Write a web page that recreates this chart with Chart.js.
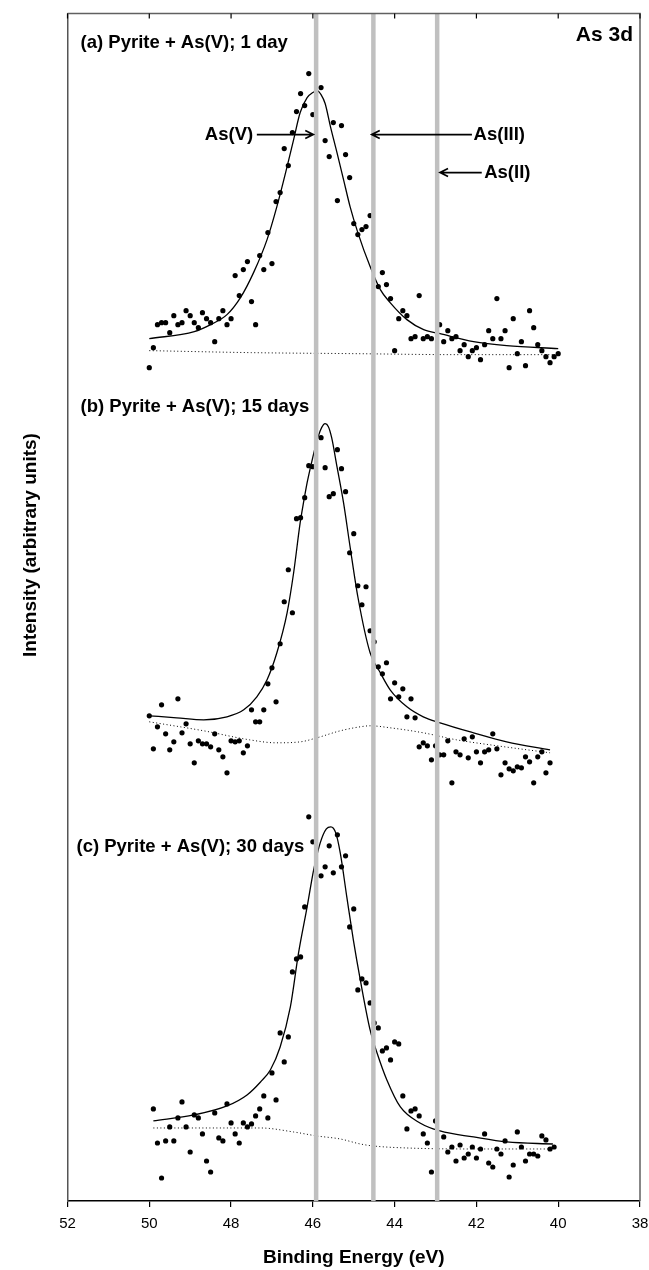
<!DOCTYPE html>
<html>
<head>
<meta charset="utf-8">
<title>As 3d XPS</title>
<script src="https://cdn.jsdelivr.net/npm/chart.js@4.4.1/dist/chart.umd.min.js"></script>
<style>
  html, body { margin: 0; padding: 0; background: #fff; }
</style>
</head>
<body>
<canvas id="xps" width="649" height="1270"></canvas>
<script>
// ---------------------------------------------
// As 3d spectra, pyrite + As(V), three reaction times
// measured points are on a 0.1 eV grid (high -> low binding energy)
// ---------------------------------------------
const stepE = 0.1;
const startA = 50.0, startB = 50.0, startC = 49.9;

// (a) 1 day
const ptsA = [833, 853, 876, 878, 878, 868, 885, 876, 878, 890,
              885, 878, 873, 888, 882, 878, 859, 882, 890, 876,
              882, 925, 905, 931, 939, 899, 876, 945, 931, 968,
              937, 999, 1008, 1052, 1035, 1068, 1089, 1107, 1095, 1127,
              1086, null, 1113, 1060, 1044, 1078, 1000, 1075, 1046, 1023,
              977, 966, 971, 974, 985, null, 914, 928, 916, 902,
              850, 882, 890, 885, 862, 864, 905, 862, 864, 862,
              null, 876, 859, 870, 862, 864, 850, 856, 844, 850,
              853, 841, 856, 870, 862, 902, 862, 870, 833, 882,
              847, 859, 835, 890, 873, 856, 850, 844, 838, 844,
              847];
// (b) 15 days
const ptsB = [485, 452, 474, 496, 467, 451, 459, 502, 468, 477,
              457, 438, 460, 457, 457, 454, 467, 451, 444, 428,
              460, 459, 460, 448, 455, 491, 479, 479, 491, 517,
              533, 499, 557, 599, 631, 588, 682, 683, 703, 735,
              734, null, 763, 733, 704, 707, 751, 732, 709, 648,
              667, 615, 596, 614, 570, 559, 534, 527, 538, 502,
              518, 504, 512, 484, 502, 483, 454, 458, 455, 441,
              455, 446, 446, 460, 418, 449, 446, 462, 443, 464,
              449, 438, 449, 451, 467, 452, 426, 438, 432, 430,
              434, 433, 444, 439, 418, 444, 449, 428, 438];
// (c) 30 days
const ptsC = [92, 58, 23, 60, 74, 60, 83, 99, 74, 49,
              86, 83, 67, 40, 29, 88, 63, 60, 97, 78,
              67, 58, 78, 74, 77, 85, 92, 105, 83, 128,
              101, 168, 139, 164, 229, 242, 244, 294, 384, 359,
              null, 325, 334, 355, 328, 366, 334, 345, 274, 292,
              211, 222, 218, 198, 178, 173, 150, 153, 141, 159,
              157, 105, 72, 90, 92, 85, 67, 58, 29, 80,
              null, 64, 49, 54, 40, 56, 43, 47, 54, 43,
              52, 67, 38, 34, 52, 47, 60, 24, 36, 69,
              54, 40, 47, 47, 45, 65, 61, 52, 54];

// fitted envelopes
const fitA_E = [50.0, 48.9, 48.5, 48.1, 47.77, 47.45, 47.12, 46.88, 46.63, 46.47, 46.31, 46.14, 46.0, 45.9, 45.8,
                45.7, 45.57, 45.41, 45.25, 45.09, 44.9, 44.6, 44.35, 44.11, 43.7, 43.29, 42.89, 42.07, 41.26, 40.0];
const fitA   = [862, 869, 876, 886, 903, 928, 961, 994, 1034, 1061, 1088, 1103, 1108, 1110, 1106,
                1097, 1074, 1048, 1021, 994, 968, 934, 911, 898, 881, 871, 867, 859, 855, 852];

const fitB_E = [50.0, 49.33, 48.67, 48.1, 47.69, 47.37, 47.12, 46.88, 46.63, 46.47, 46.31, 46.22, 46.14, 46.06, 45.98,
                45.9, 45.82, 45.74, 45.7, 45.62, 45.54, 45.41, 45.25, 45.09, 44.9, 44.6, 44.35, 44.11, 43.7, 43.3,
                42.89, 42.07, 41.26, 40.2];
const fitB   = [485, 483, 481, 484, 491, 504, 521, 548, 588, 628, 678, 700, 718, 733, 747,
                760, 770, 776, 777, 774, 763, 734, 698, 654, 604, 548, 528, 511, 494, 484,
                478, 468, 459, 451];

const fitC_E = [49.9, 48.91, 48.1, 47.61, 47.28, 47.04, 46.8, 46.55, 46.35, 46.14, 45.98, 45.82, 45.67, 45.56,
                45.44, 45.33, 45.17, 45.01, 44.84, 44.6, 44.43, 44.19, 43.86, 43.38, 42.89, 42.07, 41.26, 40.13];
const fitC   = [80, 86, 95, 106, 119, 131, 154, 194, 248, 294, 331, 358, 372, 374,
                368, 348, 304, 261, 221, 171, 148, 121, 94, 78, 70, 64, 59, 57];

// Shirley-type backgrounds
const bgA_E = [50.0, 47.5, 45.0, 42.5, 40.1];
const bgA   = [850, 848, 847, 846, 846];
const bgB_E = [50.0, 48.67, 47.55, 46.9, 46.3, 45.9, 45.33, 44.84, 44.6, 44.11, 43.3, 42.49, 41.67, 40.2];
const bgB   = [479, 470, 461, 458, 459, 463, 470, 474, 475, 473, 468, 461, 456, 448];
const bgC_E = [49.9, 47.28, 46.47, 45.9, 45.33, 44.84, 44.52, 43.7, 42.07, 40.13];
const bgC   = [73, 73, 69, 65, 62, 57, 55, 53, 52, 52];

// reference binding energies: As(V), As(III), As(II)
const refE = [45.92, 44.52, 42.96];

const xTicks = [52, 50, 48, 46, 44, 42, 40, 38];
const yMax = 1187;

const FONT = "'Liberation Sans', Arial, Helvetica, sans-serif";

const grid = (start, vals) => vals.map((v, i) => ({ x: +(start - i * stepE).toFixed(2), y: v }));
const pair = (es, vals) => es.map((e, i) => ({ x: e, y: vals[i] }));

const dots = (data) => ({
    type: 'scatter', data, order: 3,
    pointRadius: 2.6, pointBackgroundColor: '#000', pointBorderWidth: 0, showLine: false,
});
const curve = (data, dashed) => ({
    type: 'line', data, order: 2,
    borderColor: '#000', borderWidth: dashed ? 1 : 1.3, borderDash: dashed ? [1, 2.5] : [],
    pointRadius: 0, cubicInterpolationMode: 'monotone', fill: false,
});
const refLine = (e) => ({
    type: 'line', data: [{ x: e, y: 0 }, { x: e, y: yMax }], order: 0,
    borderColor: '#c0c0c0', borderWidth: 4.5, pointRadius: 0,
});

// =============================================
// annotations, frame, y title
// =============================================
const decor = {
    id: 'decor',
    afterDraw(chart) {
        const { ctx, chartArea: a, scales: { x, y } } = chart;
        ctx.save();

        // frame top / right + inward top ticks
        ctx.strokeStyle = '#606060';
        ctx.lineWidth = 1.5;
        ctx.beginPath();
        ctx.moveTo(a.left, a.top); ctx.lineTo(a.right, a.top); ctx.lineTo(a.right, a.bottom);
        ctx.stroke();
        ctx.strokeStyle = '#000';
        ctx.lineWidth = 1.2;
        xTicks.forEach(t => {
            const px = x.getPixelForValue(t);
            ctx.beginPath(); ctx.moveTo(px, a.top); ctx.lineTo(px, a.top + 5); ctx.stroke();
        });

        ctx.fillStyle = '#000';
        ctx.textBaseline = 'middle';

        // panel captions
        ctx.font = `bold 18.5px ${FONT}`;
        ctx.textAlign = 'left';
        ctx.fillText('(a) Pyrite + As(V); 1 day', x.getPixelForValue(51.68), y.getPixelForValue(1158));
        ctx.fillText('(b) Pyrite + As(V); 15 days', x.getPixelForValue(51.68), y.getPixelForValue(794));
        ctx.fillText('(c) Pyrite + As(V); 30 days', x.getPixelForValue(51.78), y.getPixelForValue(354));

        ctx.font = `bold 21px ${FONT}`;
        ctx.textAlign = 'right';
        ctx.fillText('As 3d', x.getPixelForValue(38.17), y.getPixelForValue(1165));

        // arrows to the reference lines
        const arrow = (fromE, toE, v) => {
            const x0 = x.getPixelForValue(fromE), x1 = x.getPixelForValue(toE), py = y.getPixelForValue(v);
            const dir = Math.sign(x1 - x0);
            ctx.lineWidth = 1.7;
            ctx.beginPath();
            ctx.moveTo(x0, py); ctx.lineTo(x1, py);
            ctx.moveTo(x1 - dir * 8, py - 4); ctx.lineTo(x1, py); ctx.lineTo(x1 - dir * 8, py + 4);
            ctx.stroke();
        };
        ctx.font = `bold 18.5px ${FONT}`;
        ctx.textAlign = 'right';
        ctx.fillText('As(V)', x.getPixelForValue(47.46), y.getPixelForValue(1066));
        arrow(47.37, 45.99, 1066);
        ctx.textAlign = 'left';
        ctx.fillText('As(III)', x.getPixelForValue(42.07), y.getPixelForValue(1066));
        arrow(42.11, 44.56, 1066);
        ctx.fillText('As(II)', x.getPixelForValue(41.81), y.getPixelForValue(1028));
        arrow(41.87, 42.89, 1028);

        // y title
        ctx.translate(31, 545);
        ctx.rotate(-Math.PI / 2);
        ctx.textAlign = 'center';
        ctx.font = `bold 19px ${FONT}`;
        ctx.fillText('Intensity (arbitrary units)', 0, 0);

        ctx.restore();
    },
};

new Chart(document.getElementById('xps'), {
    type: 'scatter',
    data: {
        datasets: [
            ...refE.map(refLine),
            dots(grid(startA, ptsA)),
            dots(grid(startB, ptsB)),
            dots(grid(startC, ptsC)),
            curve(pair(fitA_E, fitA)),
            curve(pair(fitB_E, fitB)),
            curve(pair(fitC_E, fitC)),
            curve(pair(bgA_E, bgA), true),
            curve(pair(bgB_E, bgB), true),
            curve(pair(bgC_E, bgC), true),
        ],
    },
    options: {
        responsive: false,
        animation: false,
        layout: { padding: { top: 13.5, right: 9, left: 0, bottom: 0 } },
        plugins: { legend: { display: false }, tooltip: { enabled: false } },
        scales: {
            x: {
                type: 'linear', min: 38, max: 52, reverse: true,
                // fixed axis height; end labels may overhang the plot edges
                afterFit: s => { s.height = 69; s.paddingLeft = 0; s.paddingRight = 0; },
                afterBuildTicks: s => { s.ticks = xTicks.map(v => ({ value: v })); },
                ticks: { color: '#000', font: { size: 15, family: FONT }, padding: 8, maxRotation: 0 },
                grid: { drawOnChartArea: false, drawTicks: true, tickLength: 6, color: '#000', lineWidth: 1.2 },
                border: { color: '#000', width: 1.5 },
                title: {
                    display: true, text: 'Binding Energy (eV)', color: '#000',
                    font: { size: 19, weight: 'bold', family: FONT }, padding: { top: 0, bottom: 1 },
                },
            },
            y: {
                type: 'linear', min: 0, max: yMax,
                afterFit: s => { s.width = 67.5; },
                ticks: { display: false },
                grid: { display: false },
                border: { color: '#555', width: 1.5 },
            },
        },
    },
    plugins: [decor],
});
</script>
</body>
</html>
